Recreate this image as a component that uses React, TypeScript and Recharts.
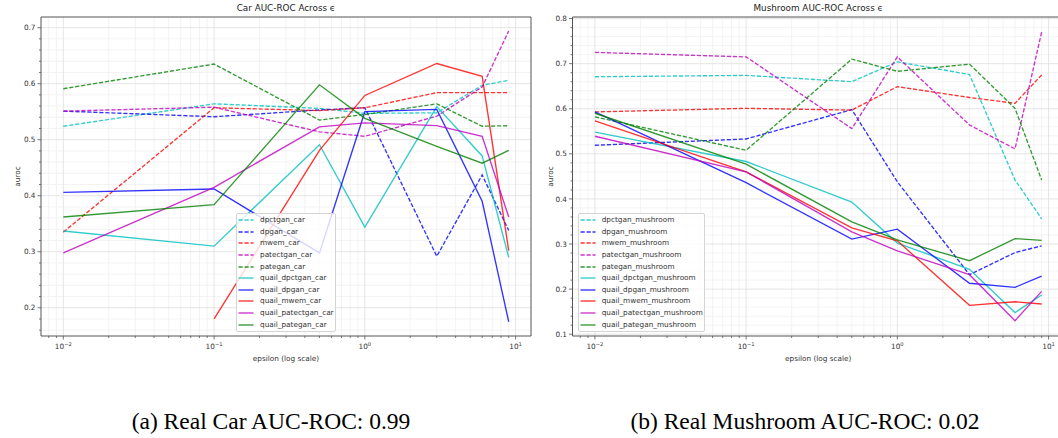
import React from "react";
import {
  LineChart,
  Line,
  XAxis,
  YAxis,
  CartesianGrid,
  ReferenceArea,
  Label,
} from "recharts";

// epsilon values on the x axis
const epsilons = [0.01, 0.1, 0.5, 1, 3, 6, 9];

// car auroc
const dpctganCar = [0.524, 0.564, 0.556, 0.547, 0.548, 0.597, 0.606];
const dpganCar = [0.551, 0.541, 0.553, 0.557, 0.292, 0.437, 0.338];
const mwemCar = [0.335, 0.557, 0.552, 0.557, 0.584, 0.584, 0.584];
const patectganCar = [0.551, 0.558, 0.514, 0.506, 0.542, 0.594, 0.694];
const pateganCar = [0.591, 0.635, 0.535, 0.545, 0.564, 0.524, 0.525];
const quailDpctganCar = [0.337, 0.31, 0.491, 0.344, 0.559, 0.471, 0.29];
const quailDpganCar = [0.406, 0.412, 0.298, 0.55, 0.554, 0.39, 0.175];
const quailMwemCar = [null, 0.18, 0.481, 0.579, 0.636, 0.613, 0.302];
const quailPatectganCar = [0.298, 0.415, 0.523, 0.53, 0.525, 0.506, 0.362];
const quailPateganCar = [0.362, 0.384, 0.598, 0.538, 0.488, 0.458, 0.481];

// mushroom auroc
const dpctganMush = [0.671, 0.674, 0.66, 0.704, 0.676, 0.442, 0.356];
const dpganMush = [0.519, 0.533, 0.598, 0.438, 0.232, 0.281, 0.296];
const mwemMush = [0.593, 0.601, 0.597, 0.649, 0.625, 0.612, 0.675];
const patectganMush = [0.725, 0.715, 0.556, 0.715, 0.564, 0.511, 0.77];
const pateganMush = [0.582, 0.508, 0.71, 0.683, 0.699, 0.601, 0.442];
const quailDpctganMush = [0.548, 0.483, 0.393, 0.302, 0.244, 0.148, 0.187];
const quailDpganMush = [0.593, 0.436, 0.311, 0.333, 0.213, 0.204, 0.229];
const quailMwemMush = [0.573, 0.46, 0.336, 0.307, 0.164, 0.172, 0.167];
const quailPatectganMush = [0.539, 0.46, 0.327, 0.285, 0.232, 0.13, 0.195];
const quailPateganMush = [0.59, 0.477, 0.349, 0.309, 0.263, 0.312, 0.308];

// ticks
const xMajor = [0.01, 0.1, 1, 10];
const xMajorExp = ["\u22122", "\u22121", "0", "1"];
const carYMajor = [0.2, 0.3, 0.4, 0.5, 0.6, 0.7];
const mushYMajor = [0.1, 0.2, 0.3, 0.4, 0.5, 0.6, 0.7, 0.8];

const xDomain: [number, number] = [0.00711, 12.65];
const carYDomain: [number, number] = [0.1496, 0.719];
const mushYDomain: [number, number] = [0.096, 0.8035];

const C = { c: "#00bfbf", b: "#0000ff", r: "#ff0000", m: "#bf00bf", g: "#008000" };

type Series = { key: string; color: string; dashed: boolean; values: (number | null)[] };

const carSeries: Series[] = [
  { key: "dpctgan_car", color: C.c, dashed: true, values: dpctganCar },
  { key: "dpgan_car", color: C.b, dashed: true, values: dpganCar },
  { key: "mwem_car", color: C.r, dashed: true, values: mwemCar },
  { key: "patectgan_car", color: C.m, dashed: true, values: patectganCar },
  { key: "pategan_car", color: C.g, dashed: true, values: pateganCar },
  { key: "quail_dpctgan_car", color: C.c, dashed: false, values: quailDpctganCar },
  { key: "quail_dpgan_car", color: C.b, dashed: false, values: quailDpganCar },
  { key: "quail_mwem_car", color: C.r, dashed: false, values: quailMwemCar },
  { key: "quail_patectgan_car", color: C.m, dashed: false, values: quailPatectganCar },
  { key: "quail_pategan_car", color: C.g, dashed: false, values: quailPateganCar },
];

const mushSeries: Series[] = [
  { key: "dpctgan_mushroom", color: C.c, dashed: true, values: dpctganMush },
  { key: "dpgan_mushroom", color: C.b, dashed: true, values: dpganMush },
  { key: "mwem_mushroom", color: C.r, dashed: true, values: mwemMush },
  { key: "patectgan_mushroom", color: C.m, dashed: true, values: patectganMush },
  { key: "pategan_mushroom", color: C.g, dashed: true, values: pateganMush },
  { key: "quail_dpctgan_mushroom", color: C.c, dashed: false, values: quailDpctganMush },
  { key: "quail_dpgan_mushroom", color: C.b, dashed: false, values: quailDpganMush },
  { key: "quail_mwem_mushroom", color: C.r, dashed: false, values: quailMwemMush },
  { key: "quail_patectgan_mushroom", color: C.m, dashed: false, values: quailPatectganMush },
  { key: "quail_pategan_mushroom", color: C.g, dashed: false, values: quailPateganMush },
];

// log minor ticks 2..9 per decade, inside the domain
const xMinor: number[] = [];
[0.001, 0.01, 0.1, 1].forEach((d) => {
  for (let k = 2; k <= 9; k++) {
    const v = +(d * k).toPrecision(3);
    if (v >= xDomain[0] && v <= xDomain[1]) xMinor.push(v);
  }
});

function yMinorFor(domain: [number, number]) {
  const out: number[] = [];
  for (let i = 0; i <= 50; i++) {
    const v = Math.round(i * 2) / 100;
    if (i % 5 !== 0 && v >= domain[0] && v <= domain[1]) out.push(v);
  }
  return out;
}

const DASH = "4.2 1.8";
const LW = 1.35;
const TEXT = "#333";
const SPINE = "#555";

function makeRows(series: Series[]) {
  return epsilons.map((eps, i) => {
    const row: Record<string, number | null> = { eps };
    series.forEach((s) => {
      row[s.key] = s.values[i];
    });
    return row;
  });
}

const XTick = (props: any) => {
  const { x, y, payload } = props;
  const idx = xMajor.indexOf(payload.value);
  const major = idx >= 0;
  return (
    <g>
      <line x1={x} x2={x} y1={y} y2={y + (major ? 3.5 : 2)} stroke={SPINE} strokeWidth={0.8} />
      {major && (
        <text x={x} y={y + 13} textAnchor="middle" fontSize={7.3} fill={TEXT}>
          10
          <tspan dy={-3.2} fontSize={5.2}>
            {xMajorExp[idx]}
          </tspan>
        </text>
      )}
    </g>
  );
};

const makeYTick = (majors: number[]) => (props: any) => {
  const { x, y, payload } = props;
  const major = majors.some((m) => Math.abs(m - payload.value) < 1e-9);
  return (
    <g>
      <line x1={x - (major ? 3.5 : 2)} x2={x} y1={y} y2={y} stroke={SPINE} strokeWidth={0.8} />
      {major && (
        <text x={x - 5.5} y={y} dy="0.36em" textAnchor="end" fontSize={7.3} fill={TEXT}>
          {payload.value.toFixed(1)}
        </text>
      )}
    </g>
  );
};

function Panel(props: {
  series: Series[];
  yDomain: [number, number];
  yMajor: number[];
  yAxisWidth: number;
  labelOffset: number;
  marginRight: number;
}) {
  const { series, yDomain, yMajor, yAxisWidth, labelOffset, marginRight } = props;
  const yMinor = yMinorFor(yDomain);
  const rows = makeRows(series);
  return (
    <LineChart
      width={540}
      height={372}
      data={rows}
      margin={{ top: 17, right: marginRight, bottom: 0, left: 0 }}
    >
      <CartesianGrid
        horizontalValues={yMinor}
        verticalValues={xMinor}
        stroke="#f0f0f0"
        strokeWidth={0.8}
      />
      <CartesianGrid
        horizontalValues={yMajor}
        verticalValues={xMajor}
        stroke="#dedede"
        strokeWidth={0.8}
      />
      <XAxis
        dataKey="eps"
        type="number"
        scale="log"
        domain={xDomain}
        allowDataOverflow
        ticks={[...xMajor, ...xMinor].sort((a, b) => a - b)}
        interval={0}
        height={36}
        axisLine={false}
        tickLine={false}
        tickSize={0}
        tickMargin={0}
        tick={<XTick />}
      >
        <Label
          value="epsilon (log scale)"
          position="insideBottom"
          offset={11.5}
          style={{ fontSize: 7.3, fill: TEXT }}
        />
      </XAxis>
      <YAxis
        type="number"
        domain={yDomain}
        allowDataOverflow
        ticks={[...yMajor, ...yMinor].sort((a, b) => a - b)}
        interval={0}
        width={yAxisWidth}
        axisLine={false}
        tickLine={false}
        tickSize={0}
        tickMargin={0}
        tick={makeYTick(yMajor)}
      >
        <Label
          value="auroc"
          angle={-90}
          position="insideLeft"
          offset={labelOffset}
          style={{ fontSize: 7.3, fill: TEXT, textAnchor: "middle" }}
        />
      </YAxis>
      {series.map((s) => (
        <Line
          key={s.key}
          dataKey={s.key}
          name={s.key}
          type="linear"
          stroke={s.color}
          strokeOpacity={0.8}
          strokeWidth={LW}
          strokeDasharray={s.dashed ? DASH : undefined}
          dot={false}
          activeDot={false}
          isAnimationActive={false}
        />
      ))}
      <ReferenceArea
        x1={xDomain[0]}
        x2={xDomain[1]}
        y1={yDomain[0]}
        y2={yDomain[1]}
        fill="none"
        fillOpacity={0}
        stroke={SPINE}
        strokeWidth={1}
        ifOverflow="visible"
      />
    </LineChart>
  );
}

function LegendBox(props: { series: Series[]; left: number; top: number; width: number }) {
  const { series, left, top, width } = props;
  return (
    <div
      style={{
        position: "absolute",
        left,
        top,
        width,
        height: 119,
        boxSizing: "border-box",
        background: "rgba(255,255,255,0.8)",
        border: "1px solid #d4d4d4",
        borderRadius: 2,
      }}
    >
      {series.map((s, i) => (
        <div
          key={s.key}
          style={{ position: "absolute", left: 1, top: 5.9 + i * 11.6 - 6, height: 12, width: width - 4 }}
        >
          <svg width={16} height={12} style={{ position: "absolute", left: 0, top: 0 }}>
            <line
              x1={0.5}
              x2={15.5}
              y1={6}
              y2={6}
              stroke={s.color}
              strokeOpacity={0.8}
              strokeWidth={LW}
              strokeDasharray={s.dashed ? DASH : undefined}
            />
          </svg>
          <span
            style={{
              position: "absolute",
              left: 22,
              top: 0,
              lineHeight: "12px",
              fontSize: 7.3,
              color: TEXT,
              whiteSpace: "nowrap",
            }}
          >
            {s.key}
          </span>
        </div>
      ))}
    </div>
  );
}

const titleStyle: React.CSSProperties = {
  position: "absolute",
  top: 3,
  lineHeight: "11px",
  fontSize: 8.8,
  color: "#222",
  textAlign: "center",
  whiteSpace: "nowrap",
};

const captionStyle: React.CSSProperties = {
  position: "absolute",
  top: 408,
  width: 540,
  lineHeight: "27px",
  fontSize: 23.5,
  fontFamily: "'Liberation Serif', serif",
  color: "#000",
  textAlign: "center",
  whiteSpace: "nowrap",
};

export default function App() {
  return (
    <div
      style={{
        position: "absolute",
        left: 0,
        top: 0,
        width: 1058,
        height: 438,
        overflow: "hidden",
        background: "#fff",
        fontFamily: "'DejaVu Sans', sans-serif",
      }}
    >
      <div style={{ position: "absolute", left: 0, top: 0 }}>
        <Panel
          series={carSeries}
          yDomain={carYDomain}
          yMajor={carYMajor}
          yAxisWidth={41}
          labelOffset={17}
          marginRight={9}
        />
      </div>
      <div style={{ ...titleStyle, left: 41, width: 490 }}>Car AUC-ROC Across ϵ</div>
      <LegendBox series={carSeries} left={236} top={213.3} width={100} />

      <div style={{ position: "absolute", left: 528, top: 0 }}>
        <Panel
          series={mushSeries}
          yDomain={mushYDomain}
          yMajor={mushYMajor}
          yAxisWidth={44.5}
          labelOffset={22}
          marginRight={4}
        />
      </div>
      <div style={{ ...titleStyle, left: 572.5, width: 491.5 }}>Mushroom AUC-ROC Across ϵ</div>
      <LegendBox series={mushSeries} left={577.7} top={213.3} width={127.4} />

      <div style={{ ...captionStyle, left: 1 }}>(a) Real Car AUC-ROC: 0.99</div>
      <div style={{ ...captionStyle, left: 535 }}>(b) Real Mushroom AUC-ROC: 0.02</div>
    </div>
  );
}
